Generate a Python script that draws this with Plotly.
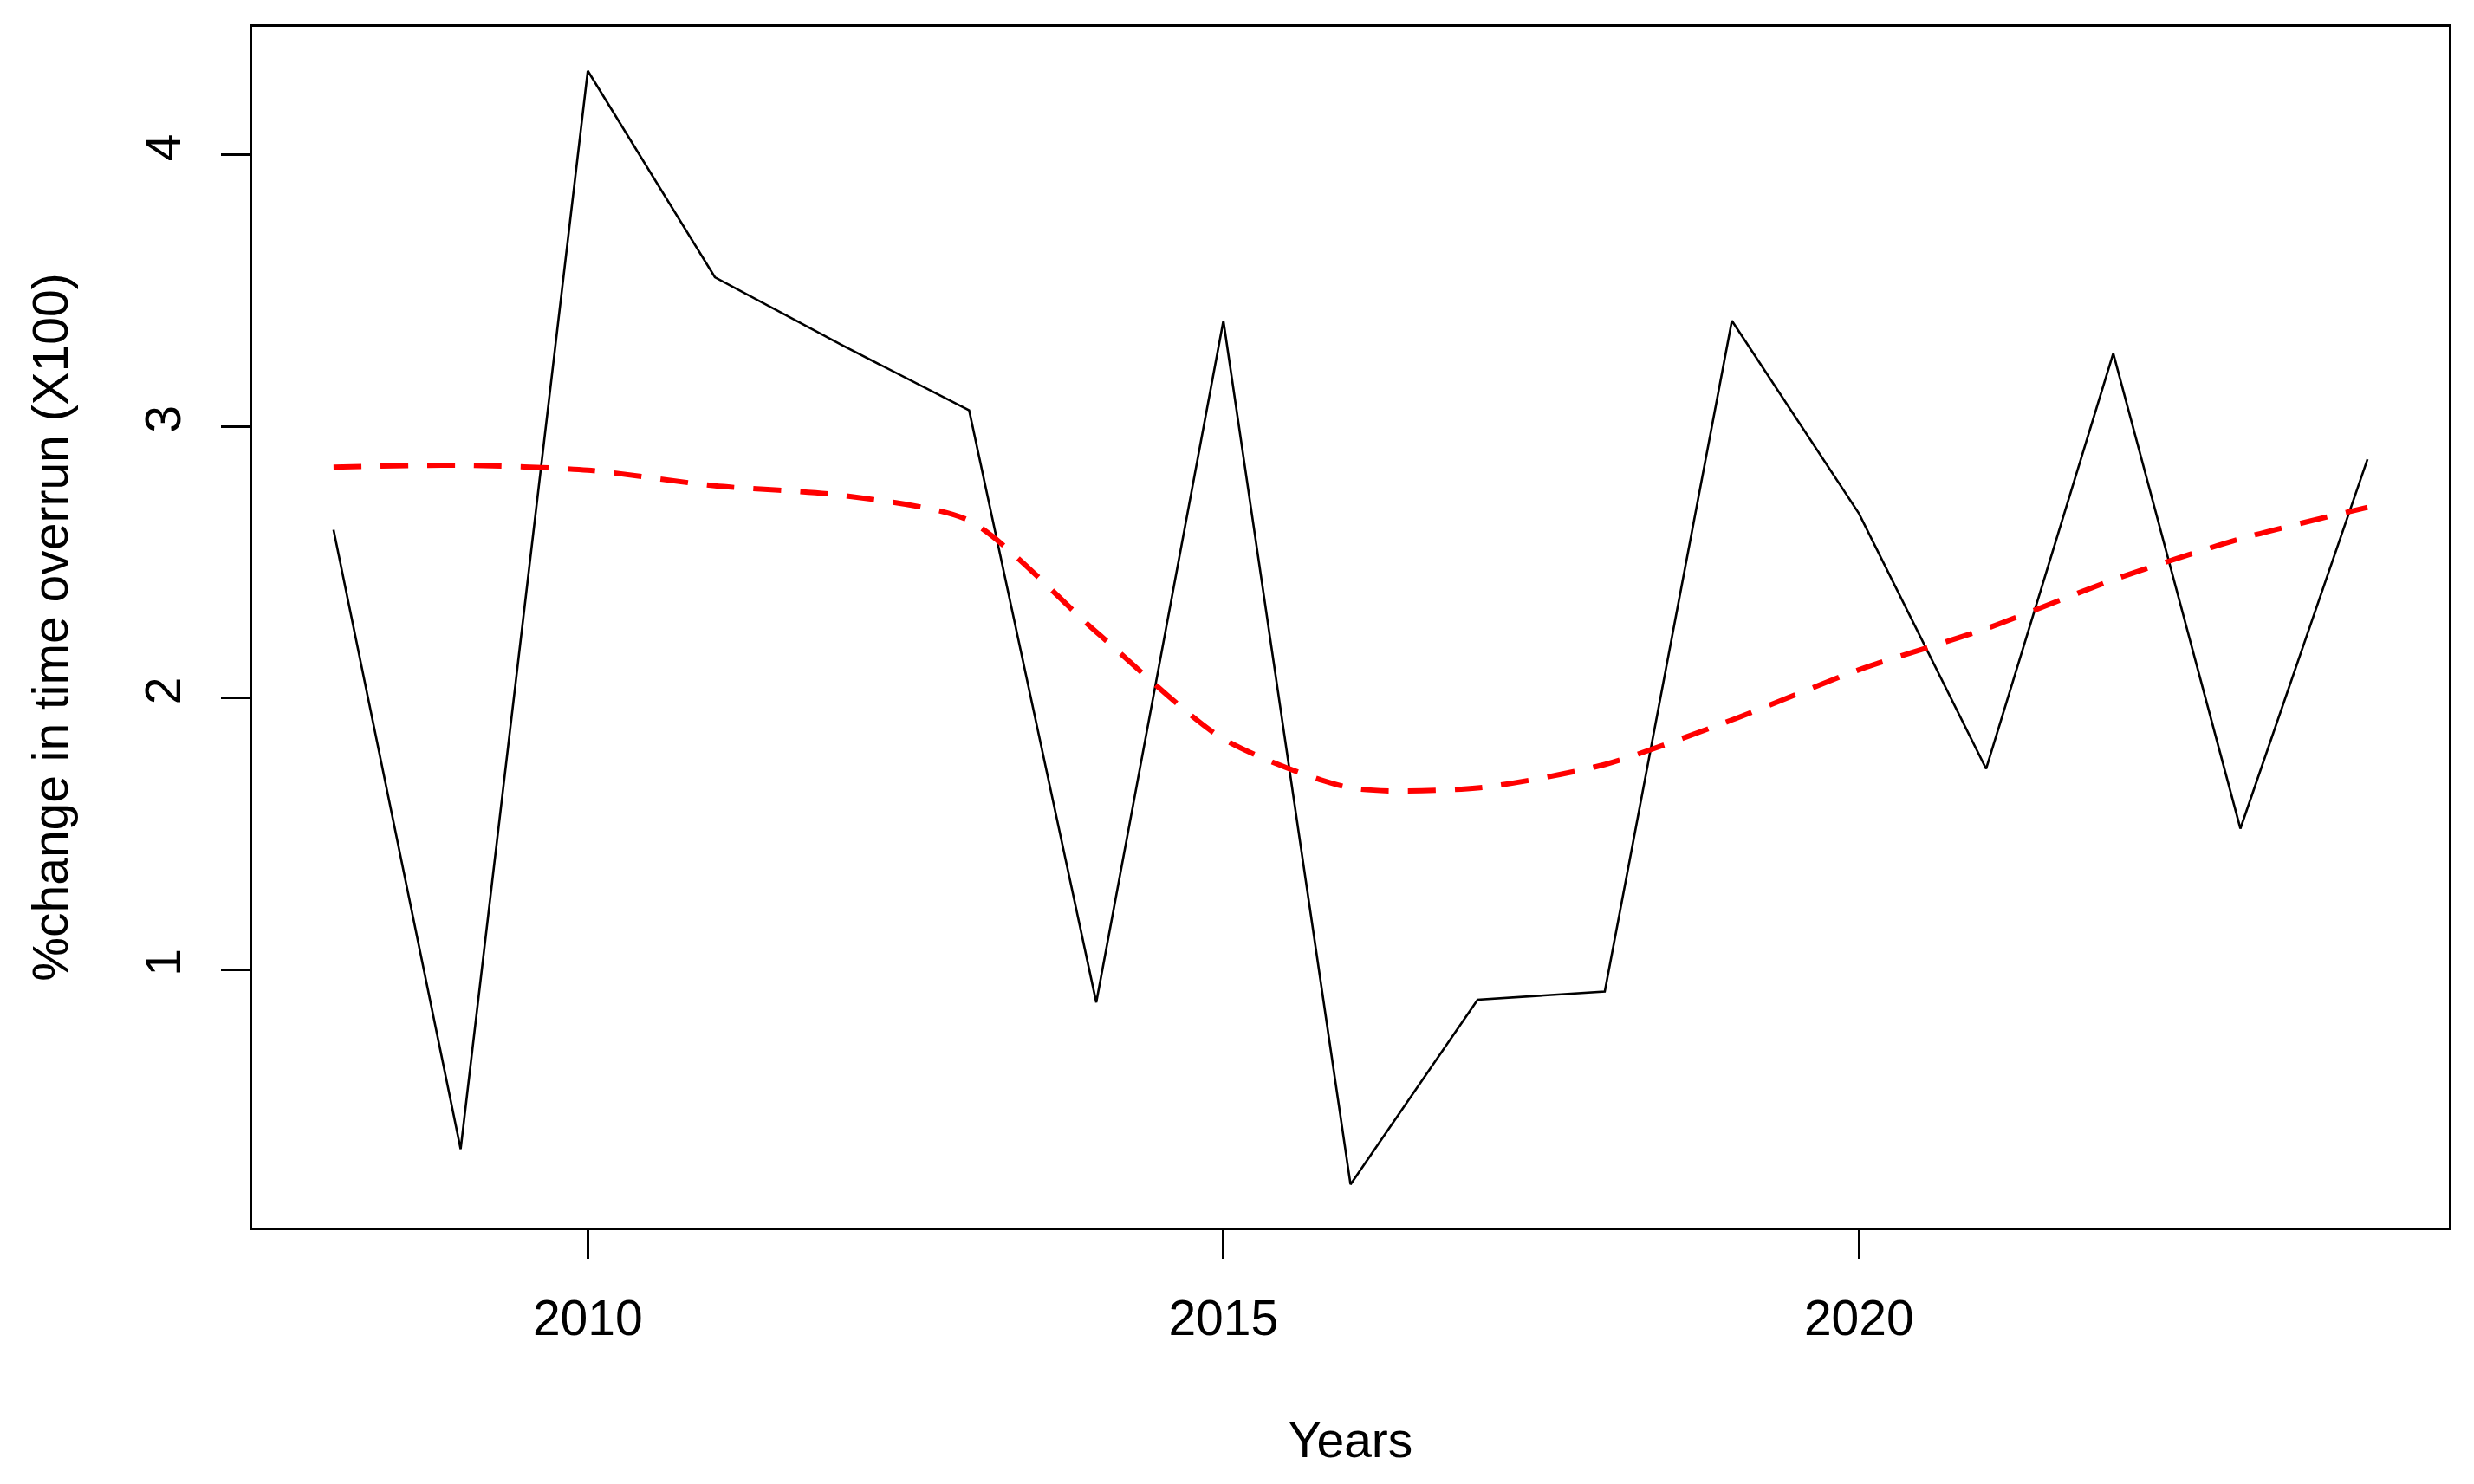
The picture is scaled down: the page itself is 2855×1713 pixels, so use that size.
import plotly.graph_objects as go

years = list(range(2008, 2025))
overrun = [2.62, 0.34, 4.31, 3.55, 3.30, 3.06, 0.88, 3.39, 0.21, 0.89, 0.92, 3.39, 2.68, 1.74, 3.27, 1.52, 2.88]
trend = [2.851, 2.858, 2.840, 2.782, 2.747, 2.654, 2.244, 1.85, 1.67, 1.67, 1.756, 1.92, 2.105, 2.256, 2.436, 2.587, 2.703]

x_ticks = [2010, 2015, 2020]
y_ticks = [1, 2, 3, 4]

FONT = "Liberation Sans, Arial, sans-serif"
FS = 57

fig = go.Figure()
fig.add_trace(go.Scatter(x=years, y=overrun, mode="lines",
                         line=dict(color="black", width=2.6), showlegend=False))
fig.add_trace(go.Scatter(x=years, y=trend, mode="lines",
                         line=dict(color="#ff0000", width=6, dash="32px,22px", shape="spline", smoothing=0.7),
                         showlegend=False))

fig.update_layout(
    width=2847, height=1705,
    margin=dict(l=283, r=29, t=23, b=296),
    paper_bgcolor="white", plot_bgcolor="white",
    font=dict(family=FONT, size=FS, color="black"),
    xaxis=dict(range=[2007.36, 2024.64], tickvals=x_ticks, ticktext=[str(v) for v in x_ticks],
               showgrid=False, zeroline=False, showline=True, mirror=True, linecolor="black", linewidth=3,
               ticks="outside", ticklen=33, tickwidth=3, tickcolor="black", ticklabelstandoff=20,
               title=dict(text="Years", standoff=90, font=dict(size=FS))),
    yaxis=dict(range=[0.051, 4.472], tickvals=y_ticks, ticktext=[str(v) for v in y_ticks], tickangle=-90,
               showgrid=False, zeroline=False, showline=True, mirror=True, linecolor="black", linewidth=3,
               ticks="outside", ticklen=33, tickwidth=3, tickcolor="black", ticklabelstandoff=24,
               title=dict(text="%change in time overrun (X100)", standoff=60, font=dict(size=FS))),
)

fig.write_html("out.html")
